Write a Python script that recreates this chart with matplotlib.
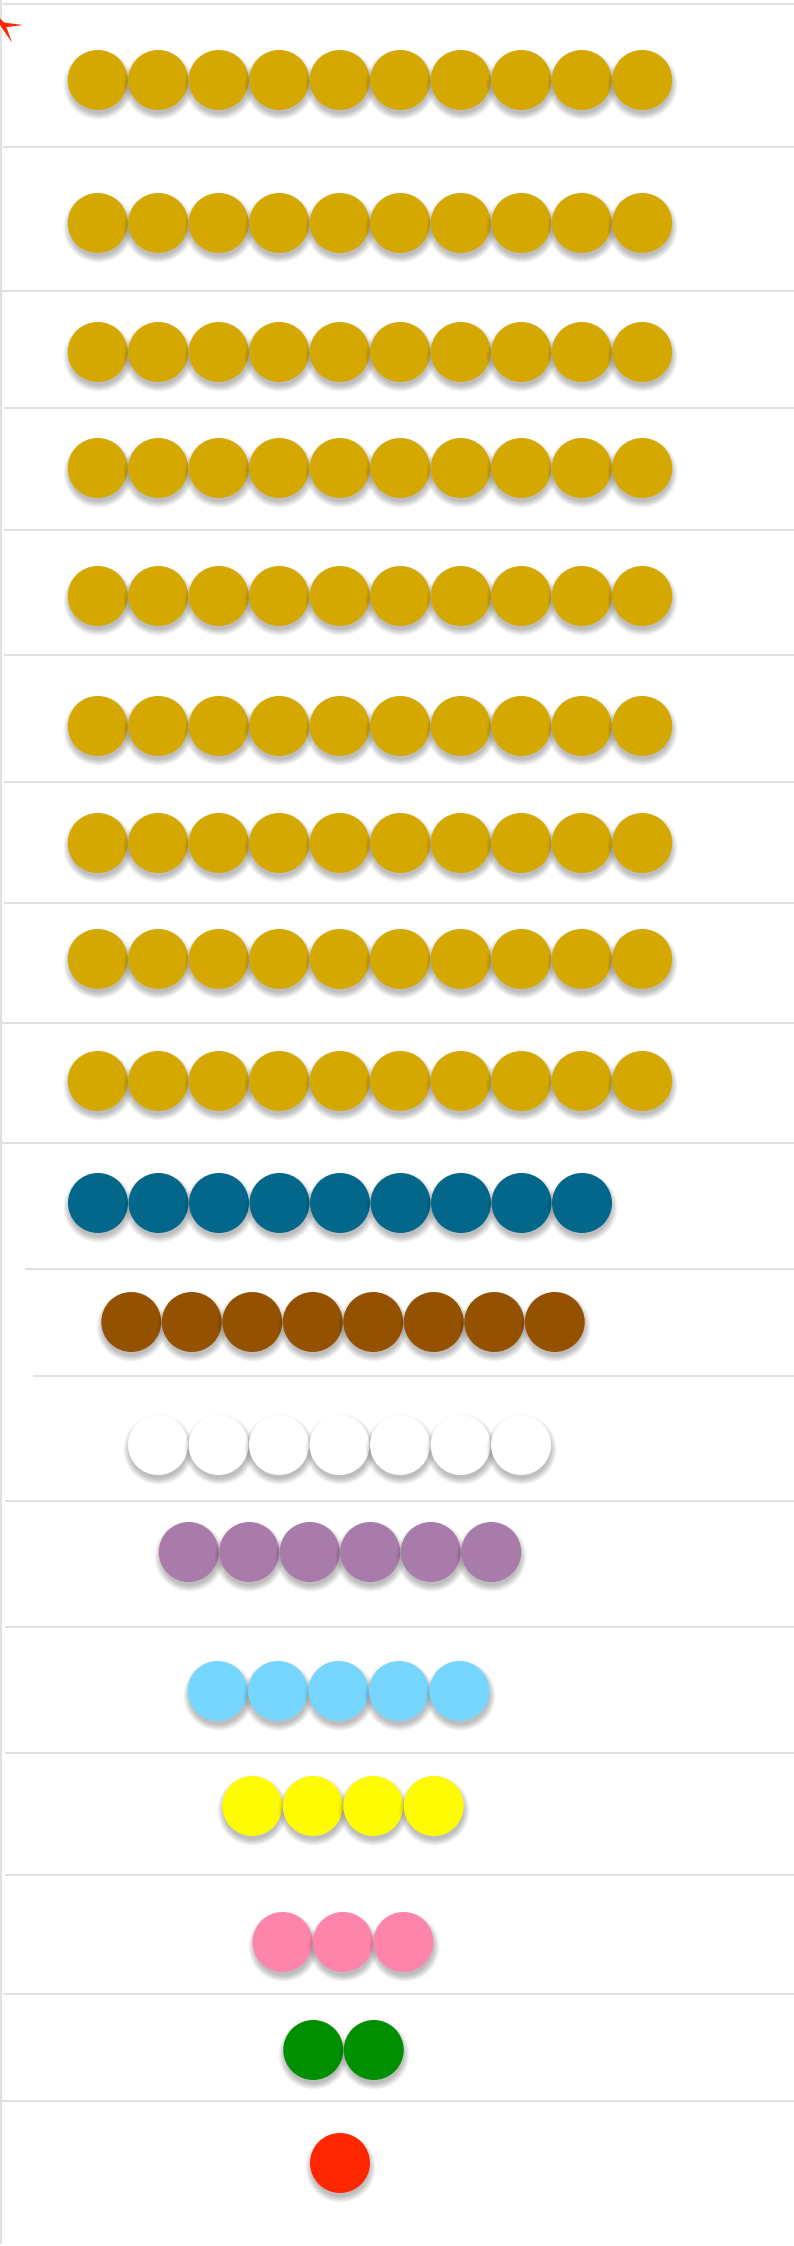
import numpy as np
import matplotlib
matplotlib.use("Agg")
import matplotlib.pyplot as plt

# ---- data ----
row_counts = [10, 10, 10, 10, 10, 10, 10, 10, 10, 9, 8, 7, 6, 5, 4, 3, 2, 1]
row_colors = ['#D5A800'] * 9 + ['#02678A', '#945200', '#FFFFFF', '#A97BAA',
                                '#76D6FF', '#FFFB00', '#FF84AB', '#008F00', '#FF2600']

# ---- layout (pixels, y downward) ----
W, H = 794, 2246
row_y = [80, 223, 352, 468, 596, 726, 843, 959, 1081, 1203, 1322, 1445, 1552,
         1691, 1806, 1942, 2050, 2163]
row_cx = [370] * 9 + [340, 343, 339.5, 340, 338.5, 343, 343, 343.5, 340]
line_y = [4, 147, 291, 408, 530, 655, 782, 903, 1023, 1143, 1269, 1376, 1501,
          1627, 1753, 1875, 1994, 2101]
line_x0 = [3, 3, 1, 4, 4, 4, 4, 4, 2, 2, 25, 33, 5, 5, 5, 5, 3, 2]
spacing = 60.5
diam_px = 60
PT = 0.72  # points per pixel at dpi 100

fig = plt.figure(figsize=(W / 100, H / 100), dpi=100)
ax = fig.add_axes([0, 0, 1, 1])
ax.set_xlim(0, W)
ax.set_ylim(H, 0)
ax.axis('off')

# grid lines
ax.hlines(line_y, line_x0, W, colors='#e0e0e0', linewidth=2 * PT, zorder=1)
ax.vlines([0.8], 0, H - 2, colors='#e0e0e0', linewidth=2 * PT, zorder=1)

max_n = max(row_counts)
for col in range(max_n):
    xs, ys, cs = [], [], []
    for n, y, c, cx0 in zip(row_counts, row_y, row_colors, row_cx):
        if col < n:
            start = cx0 - (n - 1) / 2 * spacing
            xs.append(start + col * spacing)
            ys.append(y)
            cs.append(c)
    if not xs:
        continue
    xs = np.array(xs)
    ys = np.array(ys)
    base = 10 + col * 2
    # soft drop shadow
    for k in range(7):
        d = diam_px + 2 * (6 - k) - 2
        ax.scatter(xs, ys + 3.5, s=(d * PT) ** 2, color='black', alpha=0.04,
                   linewidths=0, zorder=base)
    ax.scatter(xs, ys, s=(diam_px * PT) ** 2, c=cs, linewidths=0, zorder=base + 1)

# small red ornament at top-left corner
cx, cy = 3, 25
for ang, ln in [(0, 20), (63, 20), (235, 14)]:
    a = np.deg2rad(ang)
    ux, uy = np.cos(a), np.sin(a)
    px, py = -uy, ux
    w = 2.6
    pts = np.array([[cx + px * w, cy + py * w],
                    [cx + ux * ln, cy + uy * ln],
                    [cx - px * w, cy - py * w]])
    ax.fill(pts[:, 0], pts[:, 1], color='#FF2600', lw=0, zorder=50)

fig.savefig('out.png', dpi=100, facecolor='white')
